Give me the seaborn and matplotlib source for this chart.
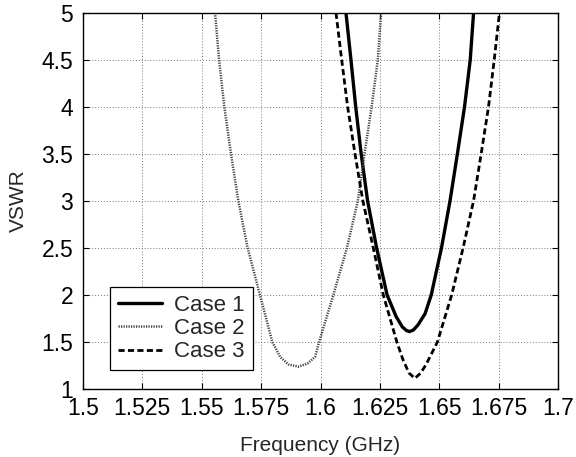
import numpy as np
import pandas as pd
import matplotlib
matplotlib.use("Agg")
import matplotlib.pyplot as plt
import seaborn as sns

# values (frequency in GHz, VSWR)
case1_f = [1.6107, 1.6128, 1.6148, 1.6171, 1.6198, 1.6236, 1.6280, 1.6318, 1.6344, 1.6362,
           1.6375, 1.6390, 1.6410, 1.6440, 1.6466, 1.6509, 1.6545, 1.6576, 1.6606, 1.6630, 1.6644]
case1_v = [5.0, 4.5, 4.0, 3.5, 3.0, 2.5, 2.0, 1.77, 1.66, 1.62,
           1.61, 1.625, 1.68, 1.80, 2.0, 2.5, 3.0, 3.5, 4.0, 4.5, 5.0]

case2_f = [1.5556, 1.5573, 1.5595, 1.5623, 1.5654, 1.5693, 1.5745, 1.5797, 1.5830, 1.5865,
           1.5907, 1.5945, 1.5977, 1.5994, 1.6054, 1.6111, 1.6157, 1.6185, 1.6215, 1.6241, 1.6255]
case2_v = [5.0, 4.5, 4.0, 3.5, 3.0, 2.5, 2.0, 1.5, 1.34, 1.26,
           1.237, 1.27, 1.34, 1.5, 2.0, 2.5, 3.0, 3.5, 4.0, 4.5, 5.0]

case3_f = [1.6065, 1.6089, 1.6114, 1.6145, 1.6178, 1.6222, 1.6264, 1.6321, 1.6347, 1.6372,
           1.6397, 1.6422, 1.6447, 1.6492, 1.6552, 1.6600, 1.6644, 1.6676, 1.6707, 1.6731, 1.6753]
case3_v = [5.0, 4.5, 4.0, 3.5, 3.0, 2.5, 2.0, 1.5, 1.31, 1.17,
           1.112, 1.17, 1.273, 1.5, 2.0, 2.5, 3.0, 3.5, 4.0, 4.5, 5.0]

xticks = [1.5, 1.525, 1.55, 1.575, 1.6, 1.625, 1.65, 1.675, 1.7]
xticklabels = ["1.5", "1.525", "1.55", "1.575", "1.6", "1.625", "1.65", "1.675", "1.7"]
yticks = [1, 1.5, 2, 2.5, 3, 3.5, 4, 4.5, 5]
yticklabels = ["1", "1.5", "2", "2.5", "3", "3.5", "4", "4.5", "5"]

sns.set_style("white")
plt.rcParams['font.family'] = ['Liberation Sans', 'DejaVu Sans']

fig = plt.figure(figsize=(5.76, 4.57), dpi=100)
ax = fig.add_axes([0.144, 0.149, 0.825, 0.823])

sns.lineplot(x=case1_f, y=case1_v, ax=ax, color='black', lw=2.4,
             linestyle='-', label='Case 1', sort=False)
sns.lineplot(x=case2_f, y=case2_v, ax=ax, color='#444444', lw=1.8,
             linestyle=(0, (0.5, 0.5)), label='Case 2', sort=False)
sns.lineplot(x=case3_f, y=case3_v, ax=ax, color='black', lw=2.0,
             linestyle=(0, (2.2, 1.2)), label='Case 3', sort=False)

ax.set_xlim(1.5, 1.7)
ax.set_ylim(1, 5)
ax.set_xticks(xticks)
ax.set_xticklabels(xticklabels)
ax.set_yticks(yticks)
ax.set_yticklabels(yticklabels)
ax.grid(True, color='#777777', linestyle=(0, (1, 2)), linewidth=0.7)
ax.tick_params(direction='in', length=4, width=0.8, labelsize=16.5,
               top=True, right=True, bottom=True, left=True, colors='black')
ax.tick_params(axis='x', pad=6)
ax.tick_params(axis='y', pad=7)
for s in ax.spines.values():
    s.set_color('black')
    s.set_linewidth(1.0)

ax.set_xlabel('Frequency (GHz)', fontsize=15, labelpad=11)
ax.set_ylabel('VSWR', fontsize=15, labelpad=10)

leg = ax.legend(loc='lower left', bbox_to_anchor=(0.057, 0.05), fontsize=16,
                frameon=True, fancybox=False, edgecolor='black',
                handlelength=2.0, borderpad=0.35, labelspacing=0.1,
                handletextpad=0.55, borderaxespad=0)
leg.get_frame().set_linewidth(0.9)
leg.get_frame().set_alpha(1)

fig.savefig('out.png', dpi=100)
